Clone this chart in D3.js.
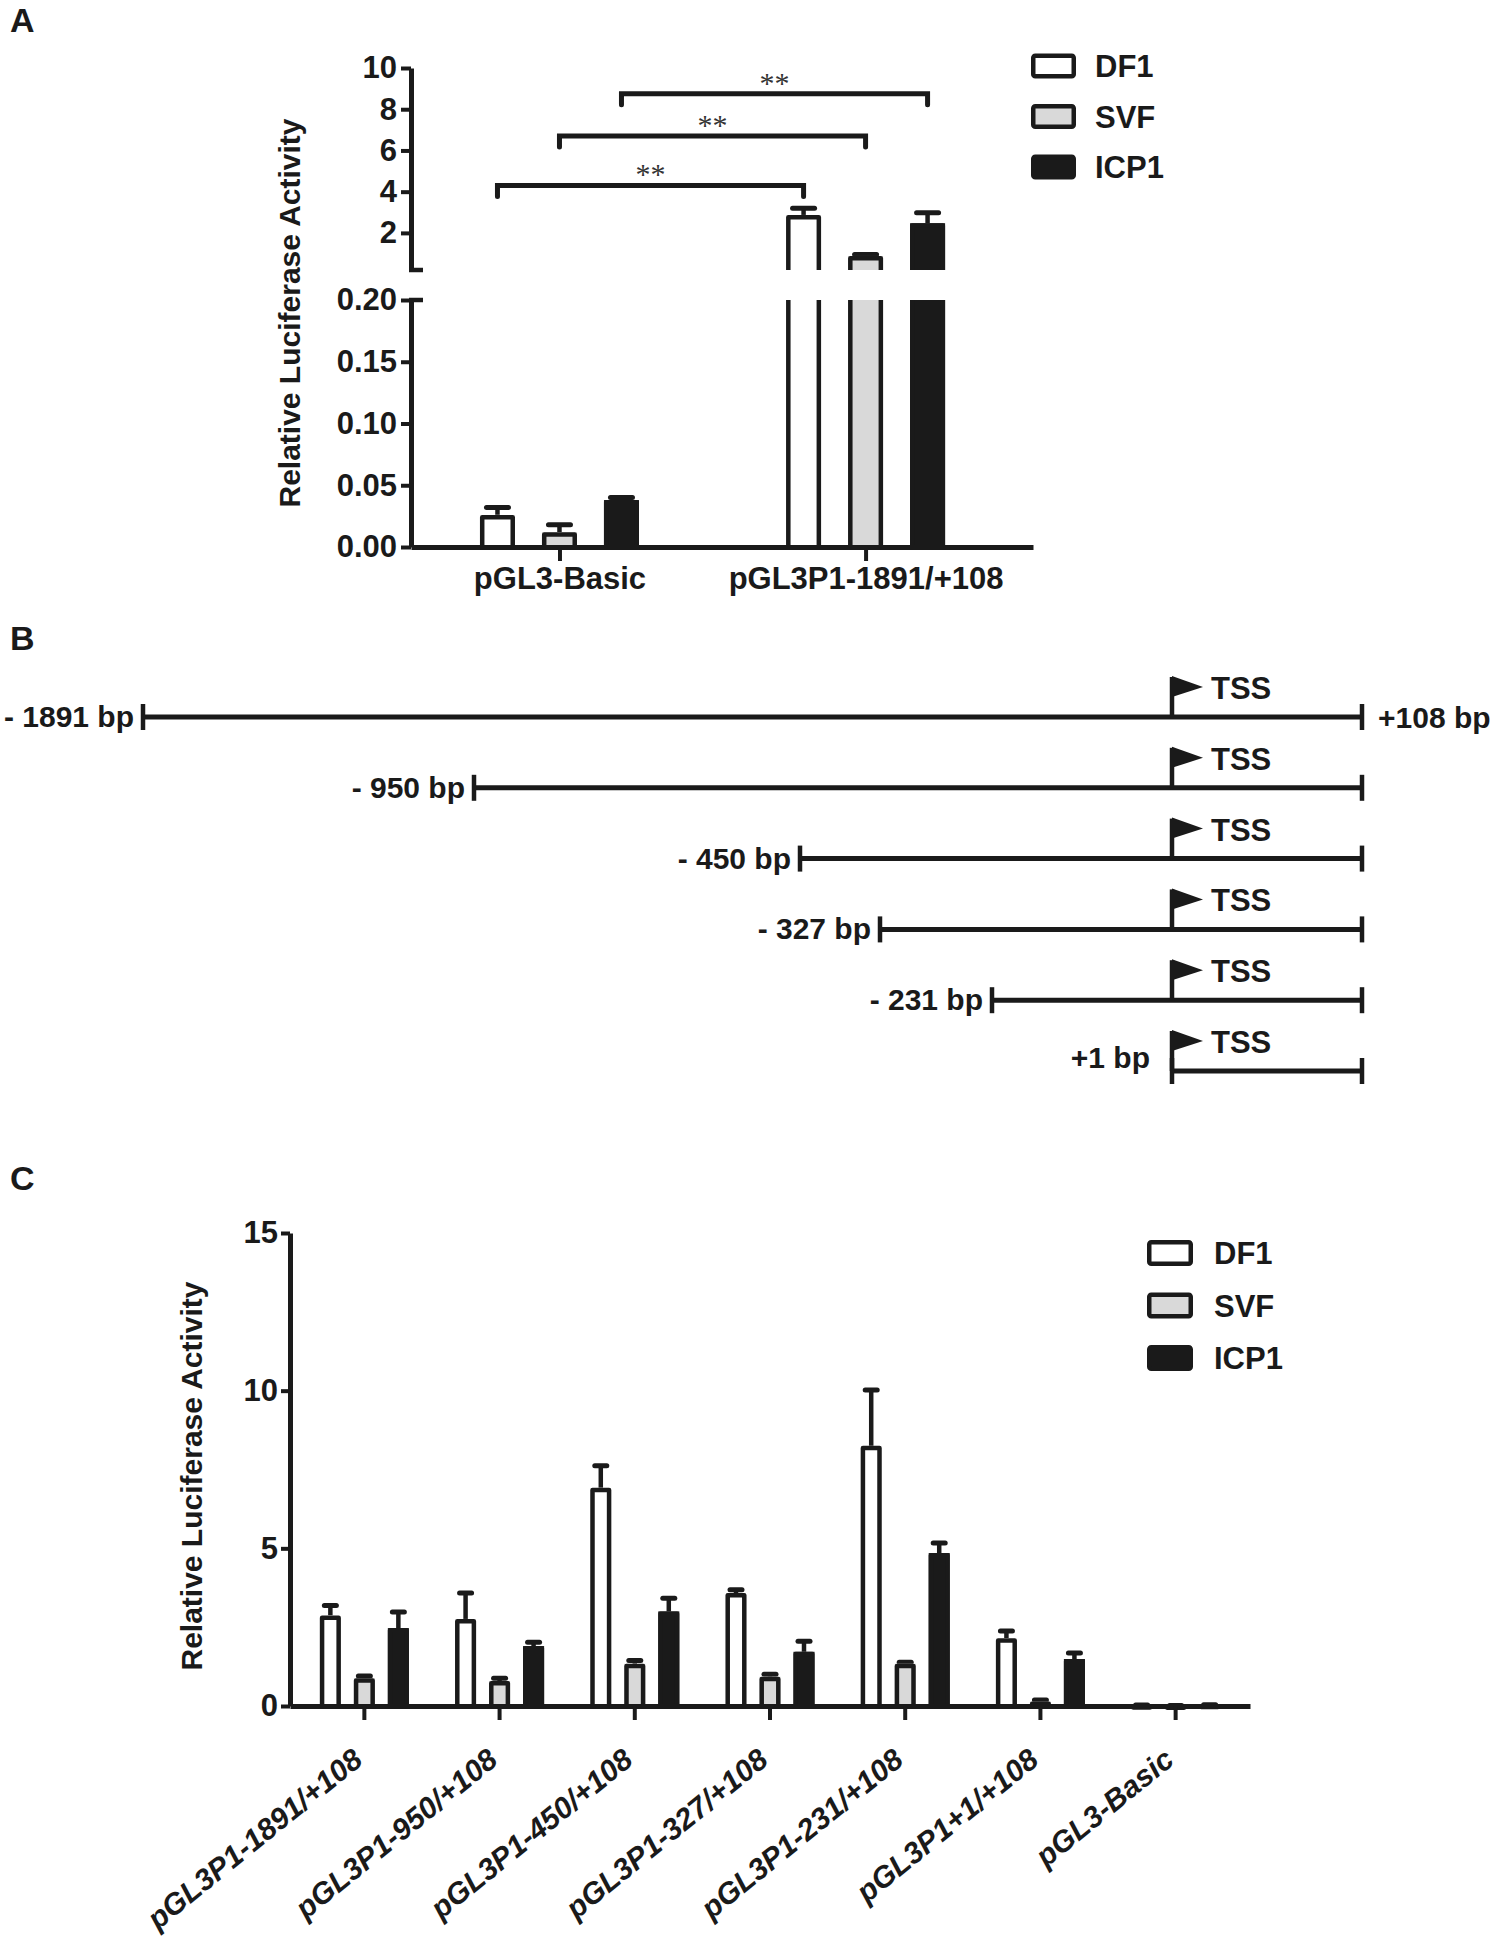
<!DOCTYPE html>
<html>
<head>
<meta charset="utf-8">
<script src="https://cdn.jsdelivr.net/npm/d3@7"></script>
<style>
  body { margin: 0; background: #fff; }
  svg { display: block; }
  text { font-family: "Liberation Sans", Arial, sans-serif; font-weight: bold; fill: #1a1a1a; }
</style>
</head>
<body>
<svg id="fig" width="1500" height="1938"></svg>
<script>
// ---- data ----
const series = ["DF1", "SVF", "ICP1"];

// panel A
const aGroups = ["pGL3-Basic", "pGL3P1-1891/+108"];
const aDF1 = [0.026, 2.87];
const aDF1Err = [0.006, 0.32];
const aSVF = [0.012, 0.88];
const aSVFErr = [0.006, 0.07];
const aICP1 = [0.038, 2.47];
const aICP1Err = [0.002, 0.51];
const aLowTicks = [0, 0.05, 0.10, 0.15, 0.20];
const aHighTicks = [2, 4, 6, 8, 10];
const sigSeries = ["DF1", "SVF", "ICP1"];
const sigHeights = [4.3, 6.7, 8.75];
const sigLabels = ["**", "**", "**"];

// panel B
const constructStarts = [-1891, -950, -450, -327, -231, 1];
const constructLabels = ["- 1891 bp", "- 950 bp", "- 450 bp", "- 327 bp", "- 231 bp", "+1 bp"];
const constructEnd = 108;
const endLabel = "+108 bp";
const tssPos = 1;

// panel C
const cGroups = ["pGL3P1-1891/+108", "pGL3P1-950/+108", "pGL3P1-450/+108", "pGL3P1-327/+108",
                 "pGL3P1-231/+108", "pGL3P1+1/+108", "pGL3-Basic"];
const cDF1 = [2.87, 2.76, 6.92, 3.58, 8.25, 2.15, 0.026];
const cDF1Err = [0.32, 0.82, 0.70, 0.11, 1.77, 0.23, 0.006];
const cSVF = [0.88, 0.79, 1.34, 0.93, 1.34, 0.14, 0.012];
const cSVFErr = [0.07, 0.09, 0.10, 0.08, 0.05, 0.05, 0.006];
const cICP1 = [2.47, 1.90, 3.00, 1.72, 4.85, 1.49, 0.038];
const cICP1Err = [0.51, 0.12, 0.42, 0.33, 0.32, 0.19, 0.002];
const cTicks = [0, 5, 10, 15];

// ---- style ----
const ink = "#1a1a1a";
const fills = { DF1: "#ffffff", SVF: "#d9d9d9", ICP1: ink };
const sw = 4.5;
const fs = 31;

const svg = d3.select("#fig");
svg.append("rect").attr("width", 1500).attr("height", 1938).attr("fill", "#fff");

function styleAxis(g, fontSize) {
    g.attr("font-family", null).attr("font-size", null);
    g.select(".domain").attr("stroke", ink).attr("stroke-width", 5);
    g.selectAll(".tick line").attr("stroke", ink).attr("stroke-width", 4);
    g.selectAll(".tick text").attr("fill", ink).style("font-size", fontSize + "px");
}

// bar with fill + outline; openTop draws only the two sides (lower piece of a broken bar)
function drawBar(g, l, w, top, base, fill, openTop) {
    const h = sw / 2;
    g.append("rect").attr("x", l).attr("y", top).attr("width", w).attr("height", base - top).attr("fill", fill);
    const d = openTop
        ? `M${l + h},${top}V${base}M${l + w - h},${top}V${base}`
        : `M${l + h},${base}V${top + h}H${l + w - h}V${base}`;
    g.append("path").attr("d", d).attr("fill", "none").attr("stroke", ink)
        .attr("stroke-width", sw).attr("stroke-linejoin", "round");
}

function drawErr(g, cx, top, errTop, capW) {
    g.append("line").attr("x1", cx).attr("x2", cx).attr("y1", top).attr("y2", errTop)
        .attr("stroke", ink).attr("stroke-width", 4.5);
    g.append("line").attr("x1", cx - capW / 2).attr("x2", cx + capW / 2).attr("y1", errTop).attr("y2", errTop)
        .attr("stroke", ink).attr("stroke-width", 5).attr("stroke-linecap", "round");
}

function drawLegend(g, x, yScale, boxW, boxH, textX) {
    series.forEach(s => {
        const cy = yScale(s);
        g.append("rect").attr("x", x + sw / 2).attr("y", cy - boxH / 2 + sw / 2)
            .attr("width", boxW - sw).attr("height", boxH - sw)
            .attr("fill", fills[s]).attr("stroke", ink).attr("stroke-width", sw).attr("rx", 2);
        g.append("text").attr("x", textX).attr("y", cy + 11).style("font-size", fs + "px").text(s);
    });
}

function panelLetter(txt, x, y) {
    svg.append("text").attr("x", x).attr("y", y).style("font-size", "34px").text(txt);
}

// ================= Panel A =================
panelLetter("A", 10, 32);
const gA = svg.append("g");
const aX0 = 411, aX1 = 1033, aY0 = 547;
const xA = d3.scalePoint().domain(aGroups).range([aX0, aX1]).padding(0.516).align(0.47);
const subA = d3.scaleBand().domain(series).range([-93, 93]).paddingInner(0.435).paddingOuter(0.2175);
const yLow = d3.scaleLinear().domain([0, 0.2]).range([aY0, 300]);
const yHigh = d3.scaleLinear().domain([0.2, 10]).range([270, 68]);
const aVals = { DF1: aDF1, SVF: aSVF, ICP1: aICP1 };
const aErrs = { DF1: aDF1Err, SVF: aSVFErr, ICP1: aICP1Err };

aGroups.forEach((grp, gi) => {
    series.forEach(s => {
        const v = aVals[s][gi], e = aErrs[s][gi];
        const l = xA(grp) + subA(s), w = subA.bandwidth(), cx = l + w / 2;
        if (v <= 0.2) {
            drawErr(gA, cx, yLow(v), yLow(v + e), 22);
            drawBar(gA, l, w, yLow(v), aY0, fills[s], false);
        } else {
            drawBar(gA, l, w, yLow(0.2), aY0, fills[s], true);
            drawErr(gA, cx, yHigh(v), yHigh(v + e), 22);
            drawBar(gA, l, w, yHigh(v), yHigh(0.2), fills[s], false);
        }
    });
});

// axes A
const axLow = gA.append("g").attr("transform", `translate(${aX0},0)`)
    .call(d3.axisLeft(yLow).tickValues(aLowTicks).tickFormat(d3.format(".2f")).tickSize(10).tickSizeOuter(0).tickPadding(4));
styleAxis(axLow, fs);
const axHigh = gA.append("g").attr("transform", `translate(${aX0},0)`)
    .call(d3.axisLeft(yHigh).tickValues(aHighTicks).tickFormat(d3.format("d")).tickSize(10).tickSizeOuter(0).tickPadding(4));
styleAxis(axHigh, fs);
// break stubs
[yHigh(0.2), yLow(0.2)].forEach(y => {
    gA.append("line").attr("x1", aX0 - 2).attr("x2", aX0 + 12).attr("y1", y).attr("y2", y)
        .attr("stroke", ink).attr("stroke-width", 4.5);
});
const axXA = gA.append("g").attr("transform", `translate(0,${aY0})`)
    .call(d3.axisBottom(xA).tickSize(14).tickSizeOuter(0).tickPadding(6));
styleAxis(axXA, fs);

gA.append("text").attr("transform", `translate(300,313) rotate(-90)`)
    .attr("text-anchor", "middle").style("font-size", "30px").text("Relative Luciferase Activity");

// significance brackets
sigSeries.forEach((s, i) => {
    const x1 = xA(aGroups[0]) + subA(s) + subA.bandwidth() / 2;
    const x2 = xA(aGroups[1]) + subA(s) + subA.bandwidth() / 2;
    const y = yHigh(sigHeights[i]);
    gA.append("path").attr("d", `M${x1},${y + 11}V${y}H${x2}V${y + 11}`)
        .attr("fill", "none").attr("stroke", ink).attr("stroke-width", 5).attr("stroke-linecap", "round");
    gA.append("text").attr("x", (x1 + x2) / 2).attr("y", y - 1).attr("text-anchor", "middle")
        .style("font-family", "'Liberation Serif', 'Times New Roman', serif").style("font-weight", "normal")
        .style("font-size", "30px").style("fill", "#333").text(sigLabels[i]);
});

drawLegend(gA, 1031, d3.scalePoint().domain(series).range([66, 167]), 45, 25, 1095);

// ================= Panel B =================
panelLetter("B", 10, 650);
const gB = svg.append("g");
const bPositions = d3.sort([...constructStarts, constructEnd]);
const xB = d3.scaleLinear().domain(bPositions).range([143, 474, 800, 880, 992, 1172, 1362]);
const yB = d3.scalePoint().domain(constructLabels).range([717, 1071]);

constructStarts.forEach((st, i) => {
    const y = yB(constructLabels[i]);
    const xs = xB(st), xe = xB(constructEnd), xt = xB(tssPos);
    gB.append("line").attr("x1", xs).attr("x2", xe).attr("y1", y).attr("y2", y)
        .attr("stroke", ink).attr("stroke-width", 5);
    [xs, xe].forEach(x => gB.append("line").attr("x1", x).attr("x2", x).attr("y1", y - 13).attr("y2", y + 13)
        .attr("stroke", ink).attr("stroke-width", 4.5));
    // TSS flag
    gB.append("line").attr("x1", xt).attr("x2", xt).attr("y1", y).attr("y2", y - 40)
        .attr("stroke", ink).attr("stroke-width", 4.5);
    gB.append("path").attr("d", `M${xt},${y - 41}L${xt + 31},${y - 30}L${xt},${y - 20}Z`).attr("fill", ink);
    gB.append("text").attr("x", xt + 39).attr("y", y - 18).style("font-size", fs + "px").text("TSS");
    const atTss = st === tssPos;
    gB.append("text").attr("x", xs - (atTss ? 22 : 9)).attr("y", atTss ? y - 3 : y + 10)
        .attr("text-anchor", "end").style("font-size", "30px").text(constructLabels[i]);
    if (i === 0) {
        gB.append("text").attr("x", xe + 16).attr("y", y + 11).style("font-size", "30px").text(endLabel);
    }
});

// ================= Panel C =================
panelLetter("C", 10, 1190);
const gC = svg.append("g");
const cX0 = 290, cX1 = 1250, cY0 = 1706;
const xC = d3.scaleBand().domain(cGroups).range([cX0, cX1]).paddingInner(0).paddingOuter(0.05);
const subC = d3.scaleBand().domain(series).range([-51, 51]).paddingInner(0.38).paddingOuter(0.19);
const yC = d3.scaleLinear().domain([0, 15]).range([cY0, 1233]);
const cVals = { DF1: cDF1, SVF: cSVF, ICP1: cICP1 };
const cErrs = { DF1: cDF1Err, SVF: cSVFErr, ICP1: cICP1Err };

cGroups.forEach((grp, gi) => {
    const gc = xC(grp) + xC.bandwidth() / 2;
    series.forEach(s => {
        const v = cVals[s][gi], e = cErrs[s][gi];
        const l = gc + subC(s), w = subC.bandwidth();
        drawErr(gC, l + w / 2, yC(v), yC(v + e), 12);
        drawBar(gC, l, w, yC(v), cY0, fills[s], false);
    });
});

const axYC = gC.append("g").attr("transform", `translate(${cX0},0)`)
    .call(d3.axisLeft(yC).tickValues(cTicks).tickFormat(d3.format("d")).tickSize(9).tickSizeOuter(0).tickPadding(3));
styleAxis(axYC, fs);
const axXC = gC.append("g").attr("transform", `translate(0,${cY0})`)
    .call(d3.axisBottom(xC).tickSize(14).tickSizeOuter(0));
styleAxis(axXC, 30);
axXC.selectAll(".tick text")
    .attr("x", 0).attr("y", 0).attr("dy", null)
    .attr("transform", "translate(0,57) rotate(-39)")
    .style("text-anchor", "end").style("font-style", "italic");

gC.append("text").attr("transform", `translate(202,1476) rotate(-90)`)
    .attr("text-anchor", "middle").style("font-size", "30px").text("Relative Luciferase Activity");

drawLegend(gC, 1147, d3.scalePoint().domain(series).range([1253, 1358]), 46, 26, 1214);
</script>
</body>
</html>
